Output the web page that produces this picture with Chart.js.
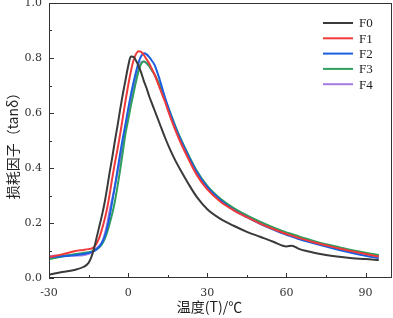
<!DOCTYPE html>
<html>
<head>
<meta charset="utf-8">
<script src="https://cdn.jsdelivr.net/npm/chart.js@4.4.1/dist/chart.umd.min.js"></script>
<style>
    html, body { margin: 0; padding: 0; background: #fff; }
    #wrap { width: 393px; height: 318px; }
</style>
</head>
<body>
<div id="wrap"><canvas id="chart"></canvas></div>
<script>
// Temperature grid (°C) shared by all curves
const temps = [-30, -25, -20, -17, -15, -14, -13, -12, -11, -10, -9, -8, -7, -6, -5, -4, -3, -2, -1, 0,
    1, 2, 3, 4, 5, 6, 7, 8, 9, 10, 12, 14, 16, 18, 20, 23, 26, 30, 35, 40,
    45, 50, 55, 60, 62, 65, 70, 75, 80, 85, 90, 95];

// tanδ values
const f0 = [0.012, 0.022, 0.030, 0.040, 0.055, 0.075, 0.105, 0.145, 0.185, 0.225, 0.270, 0.325, 0.385, 0.440, 0.500, 0.555, 0.615, 0.670, 0.720, 0.770,
    0.805, 0.805, 0.790, 0.770, 0.745, 0.715, 0.690, 0.660, 0.635, 0.610, 0.560, 0.510, 0.465, 0.425, 0.390, 0.340, 0.295, 0.250, 0.215, 0.190,
    0.168, 0.150, 0.132, 0.115, 0.117, 0.105, 0.093, 0.084, 0.077, 0.072, 0.069, 0.065];
const f1 = [0.076, 0.086, 0.098, 0.102, 0.105, 0.107, 0.112, 0.125, 0.145, 0.175, 0.210, 0.252, 0.305, 0.365, 0.420, 0.470, 0.525, 0.585, 0.645, 0.700,
    0.750, 0.790, 0.815, 0.825, 0.822, 0.810, 0.795, 0.780, 0.760, 0.740, 0.690, 0.640, 0.585, 0.535, 0.490, 0.430, 0.375, 0.322, 0.277, 0.246,
    0.221, 0.198, 0.178, 0.160, 0.154, 0.145, 0.131, 0.119, 0.107, 0.097, 0.087, 0.078];
const f2 = [0.075, 0.079, 0.083, 0.087, 0.091, 0.094, 0.098, 0.104, 0.113, 0.127, 0.148, 0.180, 0.225, 0.280, 0.335, 0.395, 0.455, 0.510, 0.560, 0.615,
    0.665, 0.710, 0.750, 0.785, 0.808, 0.817, 0.813, 0.803, 0.790, 0.775, 0.720, 0.655, 0.598, 0.545, 0.500, 0.440, 0.385, 0.330, 0.283, 0.248,
    0.221, 0.197, 0.176, 0.157, 0.151, 0.141, 0.127, 0.114, 0.102, 0.091, 0.081, 0.072];
const f3 = [0.068, 0.078, 0.087, 0.091, 0.094, 0.096, 0.099, 0.104, 0.111, 0.122, 0.140, 0.165, 0.198, 0.235, 0.280, 0.335, 0.395, 0.460, 0.525, 0.575,
    0.625, 0.670, 0.715, 0.755, 0.780, 0.787, 0.782, 0.770, 0.755, 0.740, 0.700, 0.650, 0.600, 0.550, 0.505, 0.445, 0.390, 0.335, 0.288, 0.254,
    0.228, 0.205, 0.184, 0.166, 0.160, 0.150, 0.136, 0.123, 0.112, 0.101, 0.092, 0.084];
const f4 = [0.080, 0.082, 0.082, 0.083, 0.088, 0.092, 0.100, 0.108, 0.117, 0.128, 0.155, 0.195, 0.245, 0.290, 0.335, 0.385, 0.430, 0.490, 0.545, 0.600,
    0.645, 0.685, 0.725, 0.760, 0.785, 0.787, 0.780, 0.770, 0.756, 0.740, 0.695, 0.645, 0.592, 0.540, 0.495, 0.437, 0.383, 0.329, 0.284, 0.251,
    0.225, 0.202, 0.181, 0.163, 0.157, 0.147, 0.133, 0.120, 0.109, 0.098, 0.089, 0.080];

const seriesNames = ['F0', 'F1', 'F2', 'F3', 'F4'];
const seriesValues = [f0, f1, f2, f3, f4];
const seriesColors = ['#3a3a3a', '#f03a3a', '#1a5fe0', '#2e9f5c', '#a57ae0'];

const xTicks = [-30, 0, 30, 60, 90];
const xMinor = [-15, 15, 45, 75];
const yTicks = [0, 0.2, 0.4, 0.6, 0.8, 1.0];
const yMinor = [0.1, 0.3, 0.5, 0.7, 0.9];

const TICK_FONT = { family: 'DejaVu Serif', size: 11 };
const INK = '#333';

// Frame, inward ticks, axis titles and legend
const framePlugin = {
    id: 'frame',
    afterDraw(chart) {
        const { ctx, chartArea: a, scales } = chart;
        const x = scales.x, y = scales.y;
        ctx.save();
        ctx.strokeStyle = INK;
        ctx.lineWidth = 1;
        ctx.strokeRect(a.left + 0.5, a.top + 0.5, a.right - a.left - 1, a.bottom - a.top - 1);

        ctx.beginPath();
        xTicks.concat(xMinor).forEach(v => {
            const px = Math.round(x.getPixelForValue(v)) + 0.5;
            const len = xMinor.includes(v) ? 3 : 5;
            ctx.moveTo(px, a.bottom);
            ctx.lineTo(px, a.bottom - len);
        });
        yTicks.concat(yMinor).forEach(v => {
            const py = Math.round(y.getPixelForValue(v)) + 0.5;
            const len = yMinor.includes(v) ? 3 : 5;
            ctx.moveTo(a.left, py);
            ctx.lineTo(a.left + len, py);
        });
        ctx.stroke();

        // axis titles
        ctx.fillStyle = '#222';
        ctx.font = '14px "Noto Sans CJK SC"';
        ctx.textAlign = 'center';
        ctx.textBaseline = 'middle';
        ctx.fillText('温度(T)/℃', (a.left + a.right) / 2 - 11, a.bottom + 29);

        ctx.save();
        ctx.translate(13, (a.top + a.bottom) / 2 + 2);
        ctx.rotate(-Math.PI / 2);
        ctx.font = '14px "Noto Sans CJK SC"';
        ctx.fillText('损耗因子（tanδ）', 0, 0);
        ctx.restore();

        // legend
        ctx.font = '13px "Liberation Serif"';
        ctx.textAlign = 'left';
        chart.data.datasets.forEach((ds, i) => {
            const ly = a.top + 20 + i * 15.3;
            ctx.strokeStyle = ds.borderColor;
            ctx.lineWidth = 2;
            ctx.beginPath();
            ctx.moveTo(a.right - 69, ly);
            ctx.lineTo(a.right - 39, ly);
            ctx.stroke();
            ctx.fillStyle = '#222';
            ctx.fillText(ds.label, a.right - 33, ly + 1);
        });
        ctx.restore();
    }
};

const datasets = seriesNames.map((name, i) => ({
    label: name,
    data: temps.map((t, k) => ({ x: t, y: seriesValues[i][k] })),
    borderColor: seriesColors[i],
    borderWidth: 2,
    pointRadius: 0,
    fill: false,
    cubicInterpolationMode: 'monotone',
}));

new Chart(document.getElementById('chart'), {
    type: 'line',
    data: { datasets },
    options: {
        responsive: true,
        maintainAspectRatio: false,
        animation: false,
        layout: { padding: { top: 3, right: 1, left: 0, bottom: 0 } },
        plugins: {
            legend: { display: false },
            tooltip: { enabled: false },
        },
        scales: {
            x: {
                type: 'linear',
                min: -30,
                max: 100,
                afterBuildTicks: scale => { scale.ticks = xTicks.map(v => ({ value: v })); },
                afterFit: scale => {
                    scale.height = 40;
                    scale.paddingLeft = 0;
                    scale.paddingRight = 0;
                },
                grid: { display: false, drawTicks: false },
                border: { display: false },
                ticks: { color: INK, font: TICK_FONT, padding: 9, maxRotation: 0,
                    callback: v => String(v) },
            },
            y: {
                min: 0,
                max: 1,
                afterBuildTicks: scale => { scale.ticks = yTicks.map(v => ({ value: v })); },
                afterFit: scale => {
                    scale.width = 49;
                    scale.paddingTop = 0;
                    scale.paddingBottom = 0;
                },
                grid: { display: false, drawTicks: false },
                border: { display: false },
                ticks: { color: INK, font: TICK_FONT, padding: 7,
                    callback: v => v.toFixed(1) },
            },
        },
    },
    plugins: [framePlugin],
});
</script>
</body>
</html>
